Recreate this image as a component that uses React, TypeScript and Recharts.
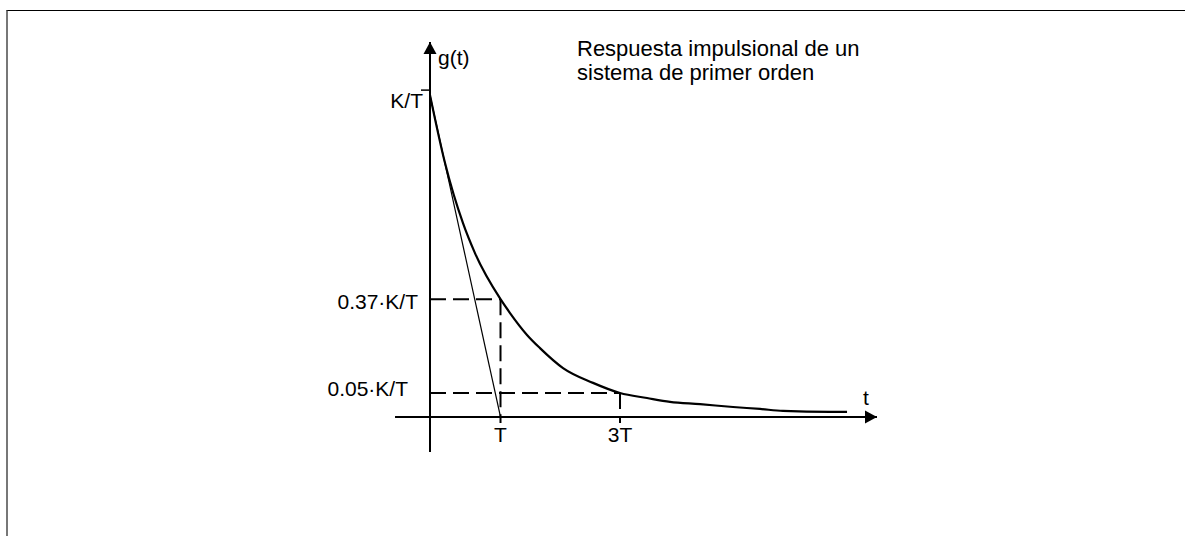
import {
  ComposedChart,
  Line,
  XAxis,
  YAxis,
  ReferenceLine,
  ReferenceDot,
} from "recharts"

// impulse response: t in units of T, g in units of K/T
const curveT = [0, 0.213, 0.468, 0.638, 1.0, 1.135, 1.376, 1.56, 1.887, 2.312, 2.695, 3.078, 3.404, 3.83, 4.298, 4.681, 5.007, 5.674, 5.915]
const curveG = [1.0, 0.789, 0.602, 0.509, 0.366, 0.323, 0.255, 0.214, 0.152, 0.106, 0.0745, 0.059, 0.047, 0.04, 0.031, 0.025, 0.019, 0.016, 0.016]

// tangent at the origin
const tangentT = [0, 1]
const tangentG = [1, 0]

const xTicks = [1, 2.695]
const xTickLabels = ["T", "3T"]
const yTicks = [0.0745, 0.366, 1]
const yTickLabels = ["0.05·K/T", "0.37·K/T", "K/T"]

// axis extents (arrow tips / tails)
const xRange = [-0.496, 6.34]
const yRange = [-0.109, 1.165]

const titleLines = ["Respuesta impulsional de un", "sistema de primer orden"]

const curveData = curveT.map((t, i) => ({ t, g: curveG[i] }))
const tangentData = tangentT.map((t, i) => ({ t, g: tangentG[i] }))

const FONT = '"Liberation Sans", Arial, sans-serif'
const INK = "#000"

// small label nudges, per y tick (hand placed in the original)
const yLabelNudge = [
  { dx: -14, dy: -5 },
  { dx: -4, dy: 2 },
  { dx: 1, dy: 5 },
]

function YTick(props: any) {
  const { x, y, payload, index } = props
  const i = yTicks.indexOf(payload.value)
  const n = yLabelNudge[i] ?? { dx: 0, dy: 0 }
  return (
    <g>
      {i === 2 && (
        <line x1={x - 1} x2={x + 8} y1={y - 5} y2={y - 5} stroke={INK} strokeWidth={1.5} />
      )}
      <text
        x={x + n.dx}
        y={y + n.dy}
        textAnchor="end"
        dominantBaseline="central"
        fontSize={21}
        fontFamily={FONT}
        fill={INK}
        key={index}
      >
        {yTickLabels[i]}
      </text>
    </g>
  )
}

const ArrowRight = (props: any) => {
  const { cx, cy } = props
  return (
    <g>
      <polygon points={`${cx},${cy} ${cx - 12},${cy - 6.5} ${cx - 12},${cy + 6.5}`} fill={INK} />
      <text x={cx - 11} y={cy - 20} textAnchor="middle" dominantBaseline="central" fontSize={21} fontFamily={FONT} fill={INK}>
        t
      </text>
    </g>
  )
}

const ArrowUp = (props: any) => {
  const { cx, cy } = props
  return (
    <g>
      <polygon points={`${cx},${cy} ${cx - 6.5},${cy + 12} ${cx + 6.5},${cy + 12}`} fill={INK} />
      <text x={cx + 8} y={cy + 15} textAnchor="start" dominantBaseline="central" fontSize={21} fontFamily={FONT} fill={INK}>
        g(t)
      </text>
    </g>
  )
}

const dashed = { stroke: INK, strokeWidth: 2, strokeDasharray: "16 7" }

export default function App() {
  return (
    <div style={{ position: "absolute", left: 0, top: 0, width: 1185, height: 536, background: "#fff" }}>
      <div
        style={{
          position: "absolute",
          left: 6,
          top: 10,
          width: 1179,
          height: 526,
          boxSizing: "border-box",
          borderTop: "1px solid #000",
          borderLeft: "2px solid #777",
        }}
      />
      <div
        style={{
          position: "absolute",
          left: 577,
          top: 37,
          fontFamily: FONT,
          fontSize: 22,
          lineHeight: "24px",
          color: INK,
          whiteSpace: "nowrap",
        }}
      >
        {titleLines.map((l) => (
          <div key={l}>{l}</div>
        ))}
      </div>
      <div style={{ position: "absolute", left: 0, top: 0 }}>
        <ComposedChart width={1185} height={536} margin={{ top: 42, right: 308, bottom: 89, left: 370 }}>
          <XAxis
            dataKey="t"
            type="number"
            domain={[0, xRange[1]]}
            ticks={xTicks}
            interval={0}
            allowDataOverflow
            tickFormatter={(v) => xTickLabels[xTicks.indexOf(v)]}
            axisLine={{ stroke: INK, strokeWidth: 2 }}
            tickLine={{ stroke: INK, strokeWidth: 2 }}
            tickSize={6}
            tickMargin={4}
            tick={{ fill: INK, fontSize: 21, fontFamily: FONT }}
            height={30}
          />
          <YAxis
            type="number"
            domain={[0, yRange[1]]}
            ticks={yTicks}
            interval={0}
            allowDataOverflow
            axisLine={{ stroke: INK, strokeWidth: 2 }}
            tickLine={false}
            tick={YTick}
            width={60}
          />
          {/* axis tails past the origin */}
          <ReferenceLine
            segment={[{ x: xRange[0], y: 0 }, { x: 0, y: 0 }]}
            stroke={INK}
            strokeWidth={2}
            ifOverflow="visible"
          />
          <ReferenceLine
            segment={[{ x: 0, y: yRange[0] }, { x: 0, y: 0 }]}
            stroke={INK}
            strokeWidth={2}
            ifOverflow="visible"
          />
          {/* guide lines at T and 3T */}
          <ReferenceLine segment={[{ x: 0, y: yTicks[1] }, { x: xTicks[0], y: yTicks[1] }]} {...dashed} ifOverflow="visible" />
          <ReferenceLine segment={[{ x: xTicks[0], y: yTicks[1] }, { x: xTicks[0], y: 0 }]} {...dashed} ifOverflow="visible" />
          <ReferenceLine segment={[{ x: 0, y: yTicks[0] }, { x: xTicks[1], y: yTicks[0] }]} {...dashed} ifOverflow="visible" />
          <ReferenceLine segment={[{ x: xTicks[1], y: yTicks[0] }, { x: xTicks[1], y: 0 }]} {...dashed} ifOverflow="visible" />
          <Line
            data={tangentData}
            dataKey="g"
            type="linear"
            stroke={INK}
            strokeWidth={1.2}
            dot={false}
            isAnimationActive={false}
          />
          <Line
            data={curveData}
            dataKey="g"
            type="monotone"
            stroke={INK}
            strokeWidth={2.2}
            dot={false}
            isAnimationActive={false}
          />
          <ReferenceDot x={xRange[1]} y={0} r={0} shape={ArrowRight} ifOverflow="visible" />
          <ReferenceDot x={0} y={yRange[1]} r={0} shape={ArrowUp} ifOverflow="visible" />
        </ComposedChart>
      </div>
    </div>
  )
}
